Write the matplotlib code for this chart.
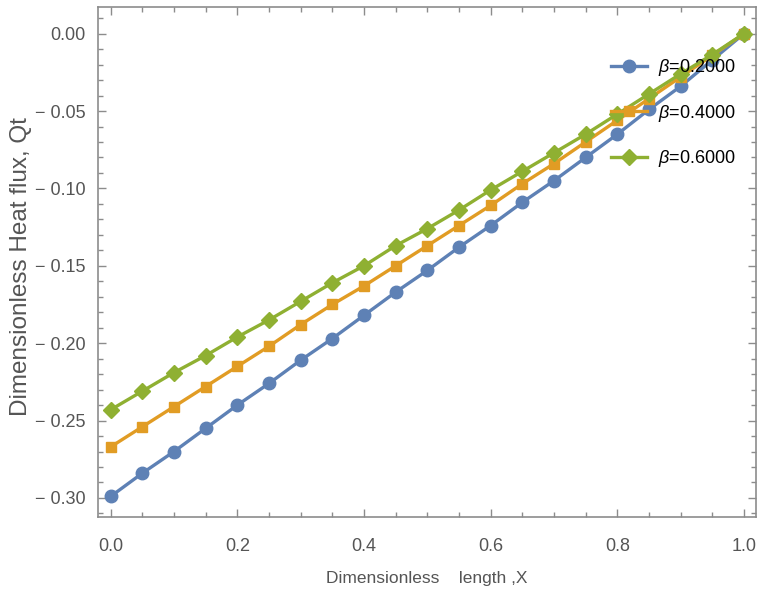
"""
Dimensionless heat flux Qt against dimensionless length X for three beta values.
"""

import matplotlib
matplotlib.use("Agg")
import matplotlib.pyplot as plt
from matplotlib.ticker import MultipleLocator
import numpy as np

# Sample points along X (0 to 1, step 0.05)
x_vals = [0.00, 0.05, 0.10, 0.15, 0.20, 0.25, 0.30, 0.35, 0.40, 0.45, 0.50,
          0.55, 0.60, 0.65, 0.70, 0.75, 0.80, 0.85, 0.90, 0.95, 1.00]

# Qt
qt_beta02 = [-0.299, -0.284, -0.270, -0.255, -0.240, -0.226, -0.211, -0.197,
             -0.182, -0.167, -0.153, -0.138, -0.124, -0.109, -0.095, -0.080,
             -0.065, -0.049, -0.034, -0.017, 0.000]
qt_beta04 = [-0.267, -0.254, -0.241, -0.228, -0.215, -0.202, -0.188, -0.175,
             -0.163, -0.150, -0.137, -0.124, -0.111, -0.097, -0.084, -0.070,
             -0.056, -0.042, -0.028, -0.014, 0.000]
qt_beta06 = [-0.243, -0.231, -0.219, -0.208, -0.196, -0.185, -0.173, -0.161,
             -0.150, -0.137, -0.126, -0.114, -0.101, -0.089, -0.077, -0.065,
             -0.052, -0.039, -0.026, -0.0135, 0.000]

labels = [r"$\beta$=0.2000", r"$\beta$=0.4000", r"$\beta$=0.6000"]

x_ticks = [0.0, 0.2, 0.4, 0.6, 0.8, 1.0]
y_ticks = [0.00, -0.05, -0.10, -0.15, -0.20, -0.25, -0.30]

plt.rcParams["font.family"] = ["Liberation Sans", "DejaVu Sans"]
plt.rcParams["mathtext.fontset"] = "custom"
plt.rcParams["mathtext.it"] = "Liberation Sans:italic"

fig = plt.figure(figsize=(7.58, 5.99), dpi=100)
ax = fig.add_axes([0.1293, 0.1369, 0.9974 - 0.1293, 0.9888 - 0.1369])

frame_gray = "#8c8c8c"
text_gray = "#555555"

ax.plot(x_vals, qt_beta02, color="#5E81B5", lw=2.4, marker="o", ms=9,
        label=labels[0], zorder=3)
ax.plot(x_vals, qt_beta04, color="#E19C24", lw=2.4, marker="s", ms=7.2,
        label=labels[1], zorder=4)
ax.plot(x_vals, qt_beta06, color="#8FB032", lw=2.4, marker="D", ms=8,
        label=labels[2], zorder=5)

ax.set_xlim(-0.020, 1.019)
ax.set_ylim(-0.3123, 0.0174)

ax.set_xticks(x_ticks)
ax.set_xticklabels([f"{t:.1f}" for t in x_ticks])
ax.xaxis.set_minor_locator(MultipleLocator(0.05))
ax.set_yticks(y_ticks)
ax.set_yticklabels([f"{t:.2f}".replace("-", "\u2212 ") if t < 0 else "0.00" for t in y_ticks])
ax.yaxis.set_minor_locator(MultipleLocator(0.01))

ax.tick_params(which="both", direction="in", top=True, right=True,
               color=frame_gray, width=1)
ax.tick_params(which="major", length=6, labelsize=13, labelcolor=text_gray)
ax.tick_params(which="minor", length=3.5)
ax.tick_params(axis="x", which="major", pad=15)
ax.tick_params(axis="y", which="major", pad=9)
for s in ax.spines.values():
    s.set_color(frame_gray)
    s.set_linewidth(1.2)

ax.set_xlabel("Dimensionless    length ,X", fontsize=12.5, color=text_gray)
ax.xaxis.set_label_coords(0.5, -0.106)
ax.set_ylabel("Dimensionless Heat flux, Qt", fontsize=17.5, color=text_gray)
ax.yaxis.set_label_coords(-0.100, 0.49)

leg = ax.legend(loc="upper left", bbox_to_anchor=(0.768, 0.915), frameon=False,
                fontsize=13, handlelength=2.0, handletextpad=0.6,
                labelspacing=1.35, borderaxespad=0)

fig.savefig("out.png", dpi=100, facecolor="white")
plt.close(fig)
